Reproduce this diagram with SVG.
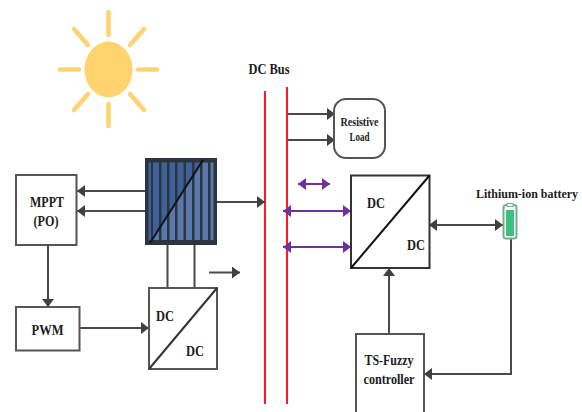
<svg xmlns="http://www.w3.org/2000/svg" width="582" height="412" viewBox="0 0 582 412">
<style>
text{font-family:"Liberation Serif","Times New Roman",serif;font-weight:bold;fill:#1c1c1c;text-anchor:middle;font-size:14px}
.box{fill:#fff;stroke:#555;stroke-width:2}
.dc{fill:#fff;stroke:#333;stroke-width:2}
.k{fill:none;stroke:#4a4a4a;stroke-width:2}
.p{fill:none;stroke:#7030a0;stroke-width:2}
.r{fill:none;stroke:#ff1a2a;stroke-width:2}
.ray{stroke:#ffd36e;stroke-width:4.500;stroke-linecap:round}
.bar{fill:#2c3442}
</style>
<defs>
<marker id="a" markerUnits="userSpaceOnUse" markerWidth="10" markerHeight="12" refX="9" refY="6" orient="auto-start-reverse"><path d="M1 0L9 6L1 12Z" fill="#404040"/></marker>
<marker id="v" markerUnits="userSpaceOnUse" markerWidth="10" markerHeight="12" refX="9" refY="6" orient="auto-start-reverse"><path d="M1 0L9 6L1 12Z" fill="#7030a0"/></marker>
</defs>
<g id="sun">
<ellipse cx="108.500" cy="69.500" rx="24" ry="28" fill="#ffd36e"/>
<path class="ray" d="M108.500 12V35M108.500 104V126M60 69.500H79M138 69.500H157M74 29L88 45M144 29L130 45M74 110L88 94M144 110L130 94"/>
</g>
<g id="dc-bus">
<path class="r" d="M265 91V404M287 87V404"/>
<text x="269" y="74" textLength="41" lengthAdjust="spacingAndGlyphs">DC Bus</text>
</g>
<g id="connectors">
<path class="k" marker-end="url(#a)" d="M145 191H77"/>
<path class="k" marker-end="url(#a)" d="M145 211H77"/>
<path class="k" marker-end="url(#a)" d="M48 245V307"/>
<path class="k" marker-end="url(#a)" d="M80 328H149"/>
<path class="k" d="M167.500 245V288M194.500 245V288"/>
<path class="k" marker-end="url(#a)" d="M209 272.500H240"/>
<path class="k" marker-end="url(#a)" d="M217 202H265"/>
<path class="k" marker-end="url(#a)" d="M288 114H335"/>
<path class="k" marker-end="url(#a)" d="M288 140H335"/>
<path class="p" marker-start="url(#v)" marker-end="url(#v)" d="M298 184H330"/>
<path class="p" marker-start="url(#v)" marker-end="url(#v)" d="M283 211H351"/>
<path class="p" marker-start="url(#v)" marker-end="url(#v)" d="M283 247H351"/>
<path class="k" marker-start="url(#a)" marker-end="url(#a)" d="M429 225H503"/>
<path class="k" marker-end="url(#a)" d="M389 334V268"/>
<path class="k" marker-end="url(#a)" d="M511 239V374H424"/>
</g>
<g id="pv-panel">
<rect x="145" y="158" width="72" height="87" fill="#2c3442"/>
<rect x="148" y="162" width="66" height="79" fill="#5a78aa"/>
<path d="M148 162H203L150 241H148Z" fill="#3f6098"/>
<path class="bar" d="M145 158H217V162.500H145ZM145 240H217V245H145ZM145 158H148.500V245H145ZM213.500 158H217V245H213.500Z"/>
<path class="bar" d="M151 160h2v82h-2zM159 160h2.500v82h-2.500zM167 160h2.500v82h-2.500zM175 160h2.500v82h-2.500zM183.500 160h2.500v82h-2.500zM192 160h2.500v82h-2.500zM200 160h2.500v82h-2.500zM208 160h2.500v82h-2.500z"/>
<path d="M150 243L203 160" stroke="#111" stroke-width="2" fill="none"/>
</g>
<g id="mppt">
<rect class="box" x="16" y="175" width="60.500" height="70"/>
<text x="47" y="207" textLength="34" lengthAdjust="spacingAndGlyphs">MPPT</text>
<text x="46" y="226" textLength="25" lengthAdjust="spacingAndGlyphs">(PO)</text>
</g>
<g id="pwm">
<rect class="box" x="16" y="307" width="63.500" height="43.500"/>
<text x="47.500" y="335" textLength="32" lengthAdjust="spacingAndGlyphs">PWM</text>
</g>
<g id="pv-converter">
<rect class="box" x="149" y="288" width="68" height="81"/>
<path d="M149 369L217 288" stroke="#333" stroke-width="2" fill="none"/>
<text x="165" y="321" textLength="18" lengthAdjust="spacingAndGlyphs">DC</text>
<text x="195" y="356" textLength="18" lengthAdjust="spacingAndGlyphs">DC</text>
</g>
<g id="resistive-load">
<rect class="box" x="334" y="99" width="51" height="59" rx="12"/>
<text x="359.500" y="126" style="font-size:11.500px" textLength="38" lengthAdjust="spacingAndGlyphs">Resistive</text>
<text x="359.500" y="141" style="font-size:11.500px" textLength="20" lengthAdjust="spacingAndGlyphs">Load</text>
</g>
<g id="battery-converter">
<rect class="dc" x="351" y="175.500" width="78.500" height="92.500"/>
<path d="M351 268L429.500 175.500" stroke="#111" stroke-width="2" fill="none"/>
<text x="376" y="208" textLength="18" lengthAdjust="spacingAndGlyphs">DC</text>
<text x="416" y="250" textLength="18" lengthAdjust="spacingAndGlyphs">DC</text>
</g>
<g id="battery">
<text x="527" y="198" style="font-size:12.500px" textLength="102" lengthAdjust="spacingAndGlyphs">Lithium-ion battery</text>
<rect x="503.500" y="205" width="13" height="33.500" rx="2.500" fill="#fff" stroke="#6fb08c" stroke-width="2"/>
<rect x="507" y="203.500" width="6" height="3" fill="#fff" stroke="#6fb08c"/>
<rect x="506" y="210" width="8" height="26" fill="#3cbf80"/>
</g>
<g id="ts-fuzzy">
<path class="box" d="M356 413V334H424V413"/>
<text x="389" y="365" textLength="49" lengthAdjust="spacingAndGlyphs">TS-Fuzzy</text>
<text x="389" y="384" textLength="51" lengthAdjust="spacingAndGlyphs">controller</text>
</g>
</svg>
